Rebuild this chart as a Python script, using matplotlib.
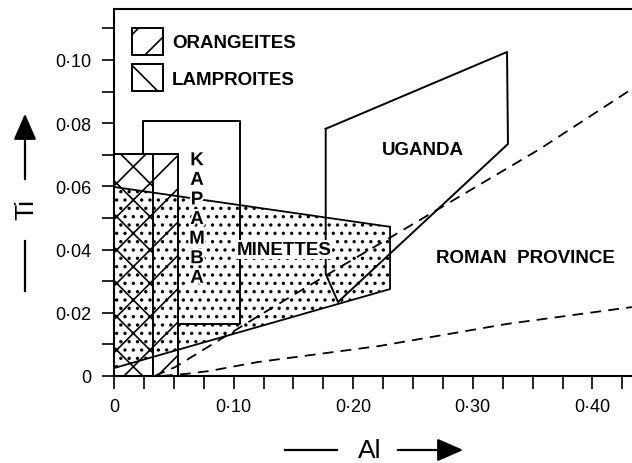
import matplotlib
matplotlib.use('Agg')
import matplotlib.pyplot as plt
from matplotlib.patches import Polygon, Patch
from matplotlib.lines import Line2D
from matplotlib.ticker import MultipleLocator, FuncFormatter
import matplotlib.patheffects as pe

plt.rcParams['font.family'] = ['Liberation Sans', 'DejaVu Sans']
plt.rcParams['hatch.linewidth'] = 1.2

# fields (Al, Ti)
orang_al = [0.0, 0.0533, 0.0533, 0.0]
orang_ti = [0.0, 0.0, 0.0703, 0.0703]
lamp_al = [0.0, 0.033, 0.033, 0.0]
lamp_ti = [0.0, 0.0, 0.0703, 0.0703]
minette_al = [0.0, 0.2308, 0.2308, 0.0]
minette_ti = [0.0598, 0.0472, 0.0275, 0.0025]
kapamba_al = [0.0242, 0.0242, 0.1054, 0.1054, 0.0533]
kapamba_ti = [0.0703, 0.0807, 0.0807, 0.0165, 0.0165]
uganda_al = [0.177, 0.3286, 0.3294, 0.1873, 0.177, 0.177]
uganda_ti = [0.0782, 0.1025, 0.0734, 0.0234, 0.0323, 0.0782]
upper_al = [0.034, 0.051, 0.1196, 0.1865, 0.239, 0.356, 0.433]
upper_ti = [0.0, 0.0028, 0.0187, 0.0339, 0.0456, 0.0718, 0.0908]
lower_al = [0.04, 0.061, 0.08, 0.12, 0.222, 0.329, 0.433]
lower_ti = [0.0, 0.0007, 0.0016, 0.0044, 0.0095, 0.0165, 0.0218]

x_major = [0.0, 0.1, 0.2, 0.3, 0.4]
y_major = [0.0, 0.02, 0.04, 0.06, 0.08, 0.10]

fig = plt.figure(figsize=(6.32, 4.64), dpi=100)
ax = fig.add_axes([114 / 632, 87 / 464, 518 / 632, 367 / 464])
ax.set_xlim(0, 0.4331)
ax.set_ylim(0, 0.1161)

# minettes stipple, then the two hatched columns on top
ax.add_patch(Polygon(list(zip(minette_al, minette_ti)), closed=True, facecolor='none',
                     edgecolor='black', hatch='..', lw=1.3, zorder=1))
ax.add_patch(Polygon(list(zip(orang_al, orang_ti)), closed=True, facecolor='none',
                     edgecolor='black', hatch='/', lw=1.4, zorder=2))
ax.add_patch(Polygon(list(zip(lamp_al, lamp_ti)), closed=True, facecolor='none',
                     edgecolor='black', hatch='\\', lw=1.4, zorder=2))

ax.plot(kapamba_al, kapamba_ti, color='black', lw=1.4, zorder=3)
ax.plot(uganda_al, uganda_ti, color='black', lw=1.4, zorder=3)
ax.plot(upper_al, upper_ti, color='black', lw=1.3, ls=(0, (6, 4)), zorder=3)
ax.plot(lower_al, lower_ti, color='black', lw=1.3, ls=(0, (6, 4)), zorder=3)

bold = dict(fontsize=13.5, fontweight='bold', ha='center', va='center', zorder=5)
ax.text(0.142, 0.0400, 'MINETTES',
        bbox=dict(facecolor='white', edgecolor='none', pad=0.5), **bold)
ax.text(0.258, 0.0717, 'UGANDA', **bold)
ax.text(0.344, 0.0375, 'ROMAN  PROVINCE', **bold)
ax.text(0.0694, 0.0495, 'K\nA\nP\nA\nM\nB\nA', linespacing=1.2,
        path_effects=[pe.withStroke(linewidth=3, foreground='white')], **bold)

handles = [Patch(facecolor='white', edgecolor='black', hatch='/', lw=1.4),
           Patch(facecolor='white', edgecolor='black', hatch='\\', lw=1.4)]
ax.legend(handles, ['ORANGEITES', 'LAMPROITES'], loc='upper left',
          bbox_to_anchor=(0.016, 0.975), frameon=False, borderpad=0,
          handlelength=1.66, handleheight=1.9, labelspacing=0.45,
          handletextpad=0.5, prop=dict(size=13.5, weight='bold'))

ax.xaxis.set_major_locator(plt.FixedLocator(x_major))
ax.xaxis.set_minor_locator(MultipleLocator(0.025))
ax.yaxis.set_major_locator(plt.FixedLocator(y_major))
ax.yaxis.set_minor_locator(MultipleLocator(0.01))
fmt = FuncFormatter(lambda v, p: '0' if v == 0 else f'{v:.2f}'.replace('.', '\u00b7'))
ax.xaxis.set_major_formatter(fmt)
ax.yaxis.set_major_formatter(fmt)
ax.tick_params(which='both', direction='out', length=9, width=1.2, labelsize=13)
ax.tick_params(axis='x', which='major', pad=7)
ax.tick_params(axis='y', which='major', pad=7)
ax.spines['right'].set_visible(False)
for s in ['left', 'top', 'bottom']:
    ax.spines[s].set_linewidth(1.5)

# axis titles with the bar-and-arrow decoration
W, H = 632, 464
arrow = dict(arrowstyle='-|>,head_length=0.8,head_width=0.35', lw=1.6,
             color='black', mutation_scale=20)
fig.text(26 / W, 1 - 210 / H, 'Ti', rotation=90, fontsize=19, ha='center', va='center')
fig.add_artist(Line2D([25 / W, 25 / W], [1 - 292 / H, 1 - 242 / H], color='black',
                      lw=1.6, transform=fig.transFigure))
ax.annotate('', xy=(25 / W, 1 - 112 / H), xytext=(25 / W, 1 - 183 / H),
            xycoords='figure fraction', textcoords='figure fraction', arrowprops=arrow)
fig.text(370 / W, 1 - 451 / H, 'Al', fontsize=19, ha='center', va='center')
fig.add_artist(Line2D([285 / W, 337 / W], [1 - 451 / H, 1 - 451 / H], color='black',
                      lw=1.6, transform=fig.transFigure))
ax.annotate('', xy=(466 / W, 1 - 451 / H), xytext=(395 / W, 1 - 451 / H),
            xycoords='figure fraction', textcoords='figure fraction', arrowprops=arrow)

fig.savefig('out.png', dpi=100)
